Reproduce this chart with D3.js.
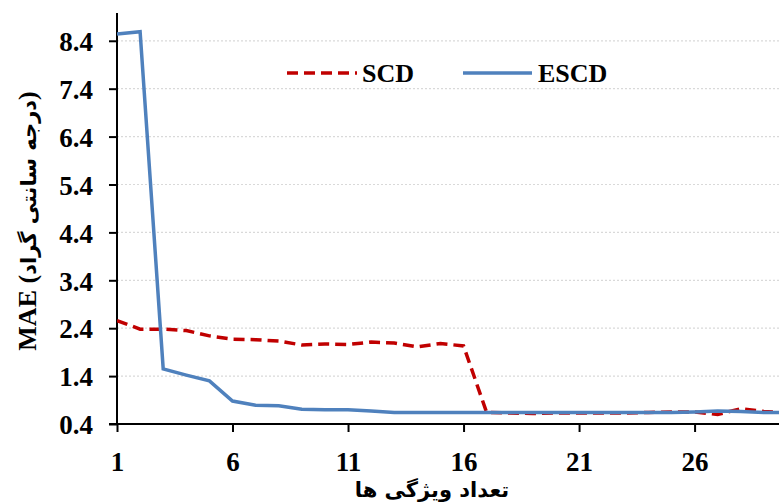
<!doctype html>
<meta charset="utf-8" />
<style>
    body { margin: 0; background: #fff; }
    text { font-family: "Times New Roman", "Liberation Serif", Tinos, "DejaVu Sans", serif; font-weight: bold; fill: #000; }
    .fa { font-family: "DejaVu Sans", sans-serif; }
</style>
<svg></svg>

<script src="https://cdn.jsdelivr.net/npm/d3@7"></script>
<script>
    // number of features
    var features = d3.range(1, 31)
    var scd = [2.56, 2.38, 2.38, 2.35, 2.24, 2.17, 2.16, 2.13, 2.05, 2.07,
        2.06, 2.11, 2.09, 2.01, 2.08, 2.03, 0.64, 0.63, 0.62, 0.63,
        0.63, 0.63, 0.63, 0.64, 0.65, 0.65, 0.60, 0.72, 0.66, 0.64]
    var escd = [8.54, 8.59, 1.55, 1.42, 1.30, 0.88, 0.79, 0.78, 0.71, 0.70,
        0.70, 0.67, 0.64, 0.64, 0.64, 0.64, 0.64, 0.64, 0.64, 0.64,
        0.64, 0.64, 0.64, 0.64, 0.64, 0.65, 0.67, 0.66, 0.64, 0.64]
    var yTicks = [0.4, 1.4, 2.4, 3.4, 4.4, 5.4, 6.4, 7.4, 8.4]
    var xTicks = [1, 6, 11, 16, 21, 26]

    var W = 779, H = 504
    var serif = '"Times New Roman", "Liberation Serif", Tinos, serif'

    var svg = d3.select('svg')
        .attr('width', W)
        .attr('height', H)

    var x = d3.scaleLinear().domain([1, 30]).range([117, 787])
    var y = d3.scaleLinear().domain([0.4, 8.98]).range([424, 13])

    svg.append('clipPath').attr('id', 'clip')
        .append('rect')
        .attr('x', 117).attr('y', 0)
        .attr('width', W - 117).attr('height', 430)

    // grid
    svg.append('g')
        .selectAll('line')
        .data(yTicks.slice(1))
        .join('line')
        .attr('x1', 117).attr('x2', W)
        .attr('y1', d => y(d)).attr('y2', d => y(d))
        .style('stroke', '#d9d9d9')
        .style('stroke-width', 1.2)
        .style('stroke-dasharray', '2,2')

    // axes
    var yAxis = svg.append('g')
        .attr('transform', 'translate(117,0)')
        .call(d3.axisLeft(y).tickValues(yTicks).tickSize(8).tickPadding(16).tickFormat(d3.format('.1f')))
    var xAxis = svg.append('g')
        .attr('transform', 'translate(0,424)')
        .call(d3.axisBottom(x).tickValues(xTicks).tickSize(8).tickPadding(20).tickFormat(d3.format('d')))

    ;[yAxis, xAxis].forEach(function (g) {
        g.select('.domain').style('stroke', '#000').style('stroke-width', 2)
        g.selectAll('.tick line').style('stroke', '#000').style('stroke-width', 2)
        g.selectAll('.tick text')
            .attr('font-family', null)
            .style('font-family', serif)
            .style('font-weight', 'bold')
            .style('font-size', '27px')
            .style('fill', '#000')
    })
    yAxis.selectAll('.tick text').attr('dy', '0.36em')
    xAxis.select('.domain').attr('d', 'M109,0H' + W)
    yAxis.select('.domain').attr('d', 'M0,13V424')

    var line = d3.line()
        .x((d, i) => x(features[i]))
        .y(d => y(d))

    var plot = svg.append('g').attr('clip-path', 'url(#clip)')

    plot.append('path')
        .datum(scd)
        .attr('d', line)
        .style('fill', 'none')
        .style('stroke', '#c00000')
        .style('stroke-width', 3.5)
        .style('stroke-dasharray', '11,6')

    plot.append('path')
        .datum(escd)
        .attr('d', line)
        .style('fill', 'none')
        .style('stroke', '#4f81bd')
        .style('stroke-width', 3.5)

    // legend
    var legend = svg.append('g')
    legend.append('line')
        .attr('x1', 287).attr('x2', 357).attr('y1', 73).attr('y2', 73)
        .style('stroke', '#c00000').style('stroke-width', 3.5).style('stroke-dasharray', '11,6')
    legend.append('text')
        .attr('x', 362).attr('y', 82)
        .style('font-family', serif)
        .style('font-size', '26px')
        .text('SCD')
    legend.append('line')
        .attr('x1', 463).attr('x2', 532).attr('y1', 73).attr('y2', 73)
        .style('stroke', '#4f81bd').style('stroke-width', 3.5)
    legend.append('text')
        .attr('x', 538).attr('y', 82)
        .style('font-family', serif)
        .style('font-size', '26px')
        .text('ESCD')

    // axis titles
    svg.append('text')
        .attr('class', 'fa')
        .attr('x', 432).attr('y', 497)
        .attr('text-anchor', 'middle')
        .style('font-size', '21px')
        .text('تعداد ویژگی ها')

    var yt = svg.append('text')
        .attr('transform', 'translate(36,221) rotate(-90)')
        .attr('text-anchor', 'middle')
        .style('font-size', '26px')
    yt.append('tspan').style('font-family', serif).text('MAE (')
    yt.append('tspan').attr('class', 'fa').style('font-size', '21px').text('درجه سانتی گراد')
    yt.append('tspan').style('font-family', serif).text(')')
</script>
